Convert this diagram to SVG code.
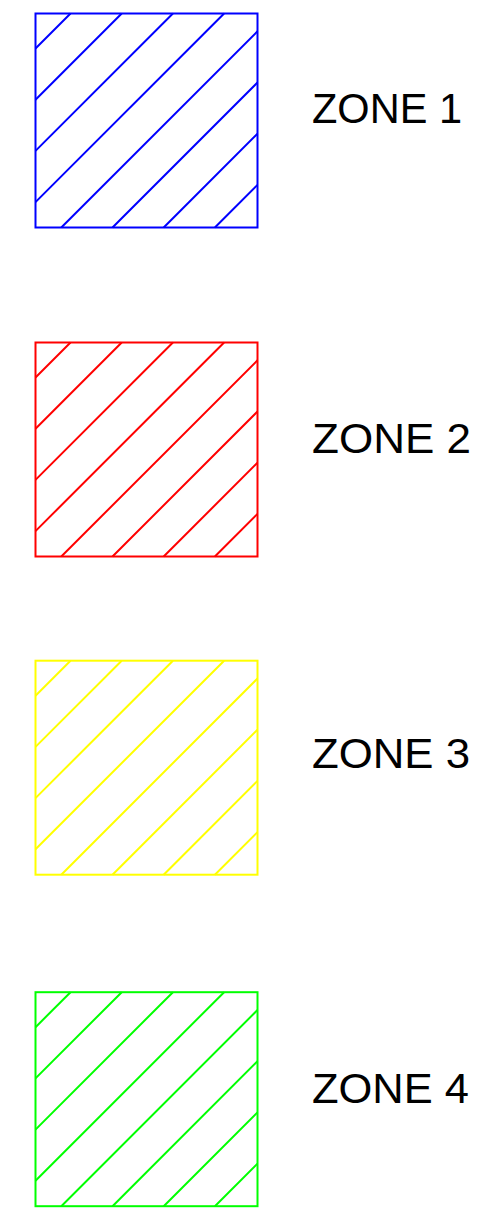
<svg xmlns="http://www.w3.org/2000/svg" xmlns:xlink="http://www.w3.org/1999/xlink" width="480" height="1208" viewBox="0 0 480 1208">
<style>
.box{fill:none;stroke-width:2}
.lbl{font-family:"Liberation Sans",Arial,sans-serif;font-size:43px;fill:#000}
</style>
<defs>
<g id="hatch" fill="none" stroke-width="2">
<rect x="0" y="0" width="222" height="214"/>
<path d="M0 35L35 0M0 86.2L86.2 0M0 137.4L137.4 0M0 188.6L188.6 0M25.8 214L222 17.8M77 214L222 69M128.2 214L222 120.2M179.4 214L222 171.4"/>
</g>
</defs>
<rect width="480" height="1208" fill="#fff"/>
<g id="zone1">
<use xlink:href="#hatch" href="#hatch" transform="translate(35.5,13.5)" stroke="#0000ff"/>
<text class="lbl" x="312" y="122.7" textLength="150" lengthAdjust="spacingAndGlyphs">ZONE 1</text>
</g>
<g id="zone2">
<use xlink:href="#hatch" href="#hatch" transform="translate(35.5,342.5)" stroke="#ff0000"/>
<text class="lbl" x="312" y="452.7" textLength="159" lengthAdjust="spacingAndGlyphs">ZONE 2</text>
</g>
<g id="zone3">
<use xlink:href="#hatch" href="#hatch" transform="translate(35.5,660.7)" stroke="#ffff00"/>
<text class="lbl" x="312" y="768.3" textLength="158" lengthAdjust="spacingAndGlyphs">ZONE 3</text>
</g>
<g id="zone4">
<use xlink:href="#hatch" href="#hatch" transform="translate(35.5,992.2)" stroke="#00ff00"/>
<text class="lbl" x="312" y="1103.3" textLength="157" lengthAdjust="spacingAndGlyphs">ZONE 4</text>
</g>
<g id="connectors"/>
</svg>
